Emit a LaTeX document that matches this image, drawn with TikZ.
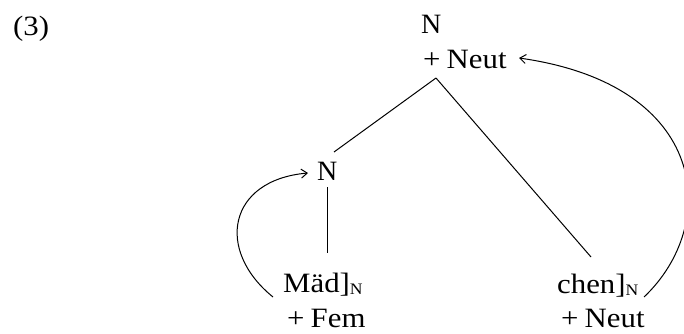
\documentclass[tikz,border=0pt]{standalone}
\usepackage{fontspec}
\setmainfont{Liberation Serif}
\usetikzlibrary{arrows.meta}
\newcommand{\subN}{\raisebox{-0.1em}{\fontsize{16}{16}\selectfont N}}
\newcommand{\wx}[1]{\scalebox{1.1}[1]{#1}}
\begin{document}
\begin{tikzpicture}[x=1pt,y=-1pt,
  lbl/.style={inner sep=0pt,anchor=base west,font=\fontsize{28}{30}\selectfont},
  edge/.style={line width=1pt},
  arc/.style={line width=1pt,-{Straight Barb[length=6pt,width=9pt,line width=1pt]}}]
\useasboundingbox (0,0) rectangle (684,333);
\node[lbl] (ex) at (13,35) {\wx{(3)}};
\node[lbl] (topN) at (421,33) {N};
\node[lbl] (topNeut) at (423,68) {\wx{+\hspace{0.2em}Neut}};
\node[lbl] (midN) at (317,180) {N};
\node[lbl] (mad) at (283,292) {\wx{Mäd]\subN}};
\node[lbl] (fem) at (287,327) {\wx{+\hspace{0.2em}Fem}};
\node[lbl] (chen) at (557,293) {\wx{chen]\subN}};
\node[lbl] (neut2) at (561,327) {\wx{+\hspace{0.2em}Neut}};
\coordinate (vtop) at (436,78);
\coordinate (vleft) at (334,152);
\coordinate (vright) at (591,257);
\coordinate (mtop) at (327,187);
\coordinate (mbot) at (327,253);
\coordinate (la) at (273,297);
\coordinate (lb) at (308,173);
\coordinate (ra) at (644,297);
\coordinate (rb) at (519,58);
\draw[edge] (vtop) -- (vleft);
\draw[edge] (vtop) -- (vright);
\draw[edge] (mtop) -- (mbot);
\draw[arc] (la) .. controls (215,250) and (228,180) .. (lb);
\draw[arc] (ra) .. controls (720,225) and (710,85) .. (rb);
\end{tikzpicture}
\end{document}
